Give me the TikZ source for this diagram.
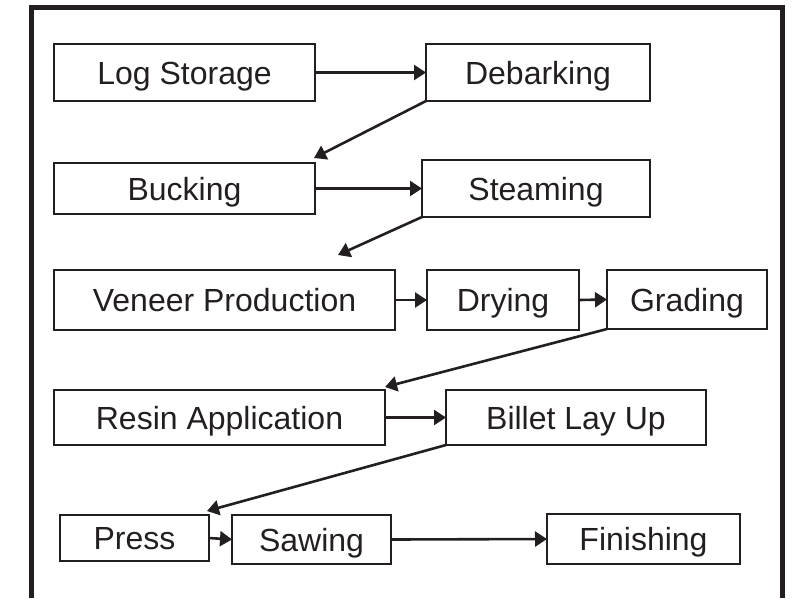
\documentclass[tikz,border=0pt]{standalone}
\usepackage{fontspec}
\setmainfont{Liberation Sans}
\usepackage{tikz}
\usetikzlibrary{arrows.meta}
\definecolor{ink}{RGB}{35,31,32}

\begin{document}
\begin{tikzpicture}[x=1pt, y=-1pt,
  stage/.style={draw=ink, line width=2.6pt, inner sep=0pt, outer sep=0pt, text=ink,
    text height=23pt, text depth=0pt, font=\fontsize{32}{38}\selectfont},
  flow/.style={draw=ink, line width=2.6pt, -{Triangle[length=12pt, width=15pt]}}]
\useasboundingbox (0,0) rectangle (794,598);
\draw[ink, line width=5pt] (31,598) |- (782,7) -- (782,598);
\node[stage, minimum width=261, minimum height=57] (logst) at (184.5,72.5) {Log Storage};
\node[stage, minimum width=224, minimum height=57] (debark) at (538,72.5) {Debarking};
\node[stage, minimum width=261, minimum height=51] (buck) at (184.5,188.5) {Bucking};
\node[stage, minimum width=228, minimum height=57] (steam) at (536,188.5) {Steaming};
\node[stage, minimum width=341, minimum height=60] (veneer) at (224.5,300) {Veneer Production};
\node[stage, minimum width=152, minimum height=60] (dry) at (503,300) {Drying};
\node[stage, minimum width=160, minimum height=59] (grade) at (687,299.5) {Grading};
\node[stage, minimum width=331, minimum height=55] (resin) at (219.5,417.5) {Resin Application};
\node[stage, minimum width=260, minimum height=55] (billet) at (576,417.5) {Billet Lay Up};
\node[stage, minimum width=149, minimum height=46] (press) at (134.5,538) {Press};
\node[stage, minimum width=159, minimum height=49] (saw) at (311.5,539.5) {Sawing};
\node[stage, minimum width=193, minimum height=50] (finish) at (643.5,539) {Finishing};

\draw[flow] (logst.east) -- (debark.west);
\draw[flow] (debark.south west) -- ([xshift=-1pt, yshift=5pt]buck.north east);
\draw[flow] (buck.east) -- (steam.west);
\draw[flow] (steam.south west) -- ([xshift=-57pt, yshift=15pt]veneer.north east);
\draw[flow] (veneer.east) -- (dry.west);
\draw[flow] (dry.east) -- (grade.west);
\draw[flow] (grade.south west) -- ([yshift=3pt]resin.north east);
\draw[flow] (resin.east) -- (billet.west);
\draw[flow] (billet.south west) -- ([xshift=-2pt, yshift=4pt]press.north east);
\draw[flow] (press.east) -- (saw.west);
\draw[flow] (saw.east) -- (finish.west);
\end{tikzpicture}
\end{document}
